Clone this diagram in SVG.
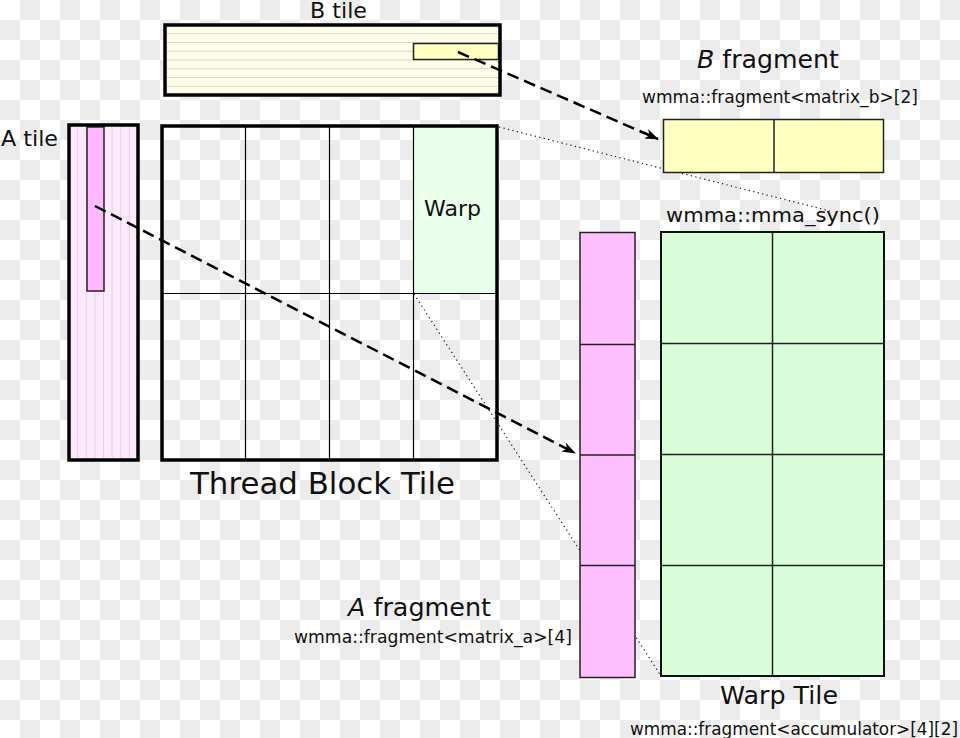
<svg xmlns="http://www.w3.org/2000/svg" width="960" height="738" viewBox="0 0 960 738">
<defs>
<pattern id="checker" x="0" y="0" width="40" height="40" patternUnits="userSpaceOnUse">
<rect width="40" height="40" fill="#ffffff"/>
<rect x="20" y="0" width="20" height="20" fill="#ececec"/>
<rect x="0" y="20" width="20" height="20" fill="#ececec"/>
</pattern>
<marker id="arrow" markerWidth="14" markerHeight="10" refX="13" refY="5" orient="auto" markerUnits="userSpaceOnUse">
<path d="M0,0 L14,5 L0,10 L4,5 Z" fill="#000"/>
</marker>
</defs>
<style>
text{font-family:"DejaVu Sans","Liberation Sans",sans-serif;fill:#111}
.thick{fill:none;stroke:#000;stroke-width:3.5}
.thin{stroke:#000;stroke-width:1.2;fill:none}
.cell{stroke:#222;stroke-width:1.5}
.stripe{stroke:#d8d8d8;stroke-width:1}
.dash{fill:none;stroke:#000;stroke-width:2.5;stroke-dasharray:12,6}
.dot{fill:none;stroke:#222;stroke-width:1.2;stroke-dasharray:1.3,3.3}
</style>
<rect width="960" height="738" fill="url(#checker)"/>

<g id="connectors-dotted">
<line class="dot" x1="499" y1="127" x2="830" y2="211"/>
<line class="dot" x1="414" y1="294" x2="661" y2="676"/>
</g>

<g id="b-tile">
<rect x="165" y="25" width="335" height="70" fill="#fefee8"/>
<g class="stripe">
<line x1="167" y1="33.75" x2="498" y2="33.75"/>
<line x1="167" y1="42.5" x2="498" y2="42.5"/>
<line x1="167" y1="51.25" x2="498" y2="51.25"/>
<line x1="167" y1="60" x2="498" y2="60"/>
<line x1="167" y1="68.75" x2="498" y2="68.75"/>
<line x1="167" y1="77.5" x2="498" y2="77.5"/>
<line x1="167" y1="86.25" x2="498" y2="86.25"/>
</g>
<rect x="413.5" y="43.5" width="85" height="16" fill="#ffffc0" stroke="#222" stroke-width="1.5"/>
<rect class="thick" x="165" y="25" width="335" height="70"/>
<text x="310" y="18" font-size="22" textLength="57" lengthAdjust="spacingAndGlyphs">B tile</text>
</g>

<g id="a-tile">
<rect x="69" y="125" width="69" height="335" fill="#fde8fd"/>
<g class="stripe">
<line x1="77.6" y1="127" x2="77.6" y2="458"/>
<line x1="86.25" y1="127" x2="86.25" y2="458"/>
<line x1="94.9" y1="127" x2="94.9" y2="458"/>
<line x1="103.5" y1="127" x2="103.5" y2="458"/>
<line x1="112.1" y1="127" x2="112.1" y2="458"/>
<line x1="120.75" y1="127" x2="120.75" y2="458"/>
<line x1="129.4" y1="127" x2="129.4" y2="458"/>
</g>
<rect x="87" y="127" width="17" height="164" fill="#ffb9ff" stroke="#222" stroke-width="1.5"/>
<rect class="thick" x="69" y="125" width="69" height="335"/>
<text x="1" y="146" font-size="22" textLength="57" lengthAdjust="spacingAndGlyphs">A tile</text>
</g>

<g id="thread-block-tile">
<rect x="413" y="126" width="84" height="167" fill="#eaffea"/>
<line class="thin" x1="245.5" y1="126" x2="245.5" y2="460"/>
<line class="thin" x1="329.5" y1="126" x2="329.5" y2="460"/>
<line class="thin" x1="413.5" y1="126" x2="413.5" y2="460"/>
<line class="thin" x1="162" y1="293.5" x2="497" y2="293.5"/>
<rect class="thick" x="162" y="126" width="335" height="334"/>
<text x="424" y="216" font-size="22" textLength="57" lengthAdjust="spacingAndGlyphs">Warp</text>
<text x="190" y="494" font-size="31" textLength="265" lengthAdjust="spacingAndGlyphs">Thread Block Tile</text>
</g>

<g id="b-fragment">
<rect x="663.5" y="119.5" width="220" height="53" fill="#ffffc0" stroke="#222" stroke-width="1.5"/>
<line class="cell" x1="774" y1="120" x2="774" y2="172"/>
<text x="697" y="68" font-size="25" textLength="142" lengthAdjust="spacingAndGlyphs"><tspan font-style="italic">B</tspan> fragment</text>
<text x="642" y="103" font-size="17" textLength="276" lengthAdjust="spacingAndGlyphs">wmma::fragment&lt;matrix_b&gt;[2]</text>
</g>

<g id="warp-tile">
<rect x="661" y="232" width="223" height="444" fill="#d8fdd8" stroke="#111" stroke-width="2"/>
<line class="cell" x1="772.5" y1="233" x2="772.5" y2="675"/>
<line class="cell" x1="662" y1="343.5" x2="883" y2="343.5"/>
<line class="cell" x1="662" y1="454.5" x2="883" y2="454.5"/>
<line class="cell" x1="662" y1="565.5" x2="883" y2="565.5"/>
<text x="666" y="222" font-size="20" textLength="214" lengthAdjust="spacingAndGlyphs">wmma::mma_sync()</text>
<text x="720" y="704" font-size="25" textLength="118" lengthAdjust="spacingAndGlyphs">Warp Tile</text>
<text x="630" y="735" font-size="17" textLength="328" lengthAdjust="spacingAndGlyphs">wmma::fragment&lt;accumulator&gt;[4][2]</text>
</g>

<g id="a-fragment">
<rect x="580" y="232.5" width="55" height="445" fill="#fdc0fd" stroke="#222" stroke-width="1.5"/>
<line class="cell" x1="580" y1="344.5" x2="635" y2="344.5"/>
<line class="cell" x1="580" y1="455" x2="635" y2="455"/>
<line class="cell" x1="580" y1="565.5" x2="635" y2="565.5"/>
<text x="348" y="616" font-size="25" textLength="143" lengthAdjust="spacingAndGlyphs"><tspan font-style="italic">A</tspan> fragment</text>
<text x="294" y="643" font-size="17" textLength="278" lengthAdjust="spacingAndGlyphs">wmma::fragment&lt;matrix_a&gt;[4]</text>
</g>

<g id="connectors">
<line class="dash" x1="458" y1="52" x2="658" y2="139" marker-end="url(#arrow)"/>
<line class="dash" x1="95" y1="206" x2="575" y2="453" marker-end="url(#arrow)"/>
</g>
</svg>
